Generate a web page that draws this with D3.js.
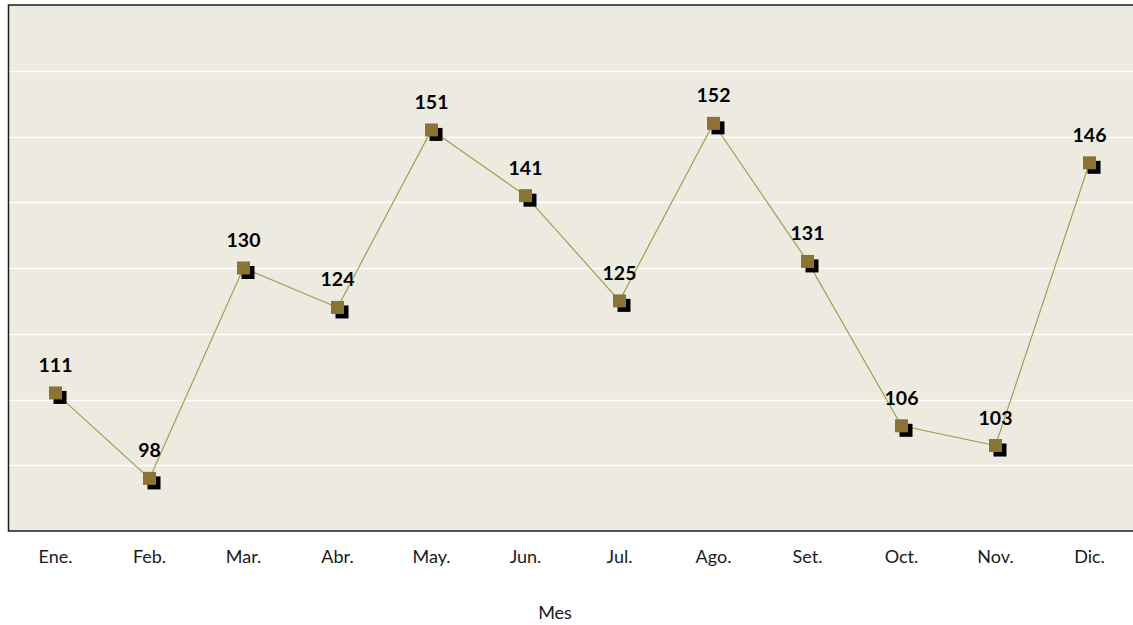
<!DOCTYPE html>
<html>
<head>
<meta charset="utf-8">
<script src="https://cdn.jsdelivr.net/npm/d3@7"></script>
<style>
  html, body { margin: 0; padding: 0; background: #ffffff; }
  svg { display: block; }
</style>
</head>
<body>
<svg id="chart" width="1133" height="625"></svg>
<script>
// Monthly values
const months = ["Ene.", "Feb.", "Mar.", "Abr.", "May.", "Jun.", "Jul.", "Ago.", "Set.", "Oct.", "Nov.", "Dic."];
const values = [111, 98, 130, 124, 151, 141, 125, 152, 131, 106, 103, 146];
const gridValues = [100, 110, 120, 130, 140, 150, 160];
const yDomain = [90, 170];
const xTitle = "Mes";

const svg = d3.select("#chart");
const plot = { left: 8.5, top: 5, right: 1136.5, bottom: 531 };

const x = d3.scaleBand().domain(months).range([plot.left, plot.right]).padding(0);
const y = d3.scaleLinear().domain(yDomain).range([plot.bottom, plot.top]);
const cx = d => x(d) + x.bandwidth() / 2;

// plot background
svg.append("rect")
  .attr("x", plot.left).attr("y", plot.top)
  .attr("width", plot.right - plot.left).attr("height", plot.bottom - plot.top)
  .attr("fill", "#edeae0");

// horizontal gridlines
svg.append("g").selectAll("line").data(gridValues).join("line")
  .attr("x1", plot.left).attr("x2", plot.right)
  .attr("y1", d => Math.round(y(d)) + 0.5).attr("y2", d => Math.round(y(d)) + 0.5)
  .attr("stroke", "#ffffff").attr("stroke-width", 1.3);

// plot border
svg.append("rect")
  .attr("x", plot.left).attr("y", plot.top)
  .attr("width", plot.right - plot.left).attr("height", plot.bottom - plot.top)
  .attr("fill", "none").attr("stroke", "#1e1e1e").attr("stroke-width", 1.5);

// x axis labels
const xAxis = d3.axisBottom(x).tickSize(0).tickPadding(19);
const gx = svg.append("g").attr("transform", `translate(0,${plot.bottom})`).call(xAxis);
gx.select(".domain").remove();
gx.selectAll("text")
  .attr("font-family", "Lato, 'Open Sans', sans-serif")
  .attr("font-size", 18)
  .attr("fill", "#1a1a1a");

// axis title
svg.append("text")
  .attr("x", 555).attr("y", 619)
  .attr("text-anchor", "middle")
  .attr("font-family", "Lato, 'Open Sans', sans-serif")
  .attr("font-size", 18)
  .attr("fill", "#1a1a1a")
  .text(xTitle);

const data = months.map((m, i) => ({ m, v: values[i] }));

// connecting line
svg.append("path")
  .datum(data)
  .attr("fill", "none")
  .attr("stroke", "#97a650")
  .attr("stroke-width", 1.2)
  .attr("d", d3.line().x(d => cx(d.m)).y(d => y(d.v)));

const size = 13;
// marker shadows
svg.append("g").selectAll("rect").data(data).join("rect")
  .attr("x", d => cx(d.m) - size / 2 + 4.5)
  .attr("y", d => y(d.v) - size / 2 + 4.5)
  .attr("width", size).attr("height", size)
  .attr("fill", "#000000");

// markers
svg.append("g").selectAll("rect").data(data).join("rect")
  .attr("x", d => cx(d.m) - size / 2)
  .attr("y", d => y(d.v) - size / 2)
  .attr("width", size).attr("height", size)
  .attr("fill", "#8b7330");

// value labels
svg.append("g").selectAll("text").data(data).join("text")
  .attr("x", d => cx(d.m))
  .attr("y", d => y(d.v) - 21)
  .attr("text-anchor", "middle")
  .attr("font-family", "Lato, 'Open Sans', sans-serif")
  .attr("font-weight", "bold")
  .attr("font-size", 19.5)
  .attr("fill", "#000000")
  .text(d => d.v);
</script>
</body>
</html>
